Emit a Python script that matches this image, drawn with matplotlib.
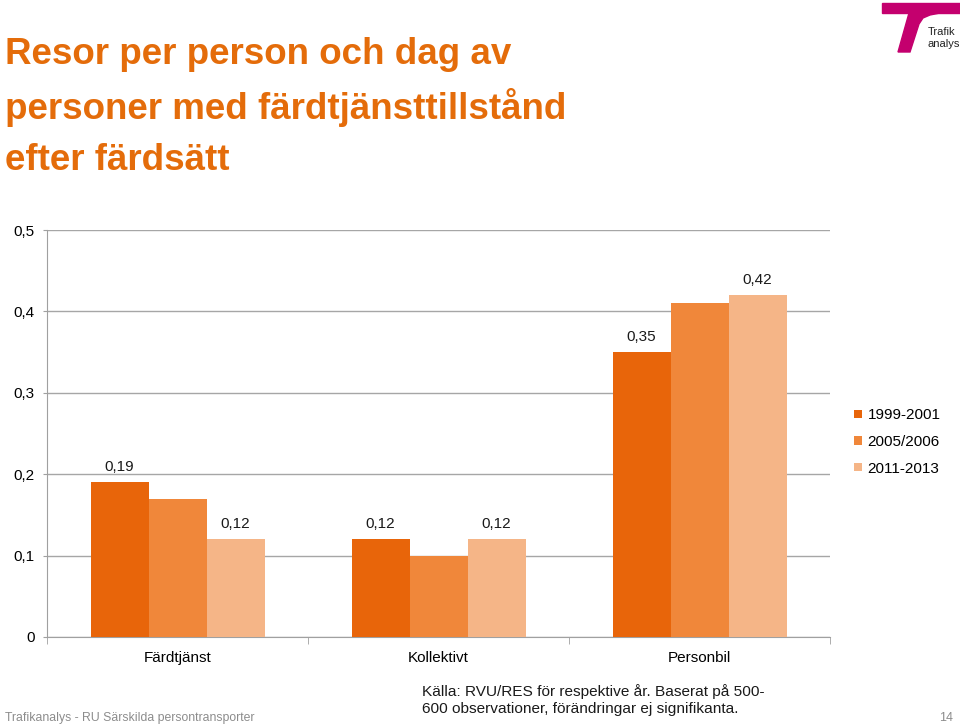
import matplotlib.pyplot as plt
import numpy as np
from matplotlib.patches import Polygon

# data
categories = ['Färdtjänst', 'Kollektivt', 'Personbil']
series_names = ['1999-2001', '2005/2006', '2011-2013']
values_1999 = [0.19, 0.12, 0.35]
values_2005 = [0.17, 0.10, 0.41]
values_2011 = [0.12, 0.12, 0.42]
yticks = [0, 0.1, 0.2, 0.3, 0.4, 0.5]
ytick_labels = ['0', '0,1', '0,2', '0,3', '0,4', '0,5']
title_lines = ['Resor per person och dag av',
               'personer med färdtjänsttillstånd',
               'efter färdsätt']

colors = ['#E8650A', '#F0873A', '#F5B587']
title_color = '#E46C0A'

plt.rcParams['font.family'] = ['Liberation Sans', 'DejaVu Sans']

fig = plt.figure(figsize=(9.6, 7.27), dpi=100)
ax = fig.add_axes([47/960, 1 - 637/727, (830-47)/960, (637-230)/727])

x = np.arange(len(categories))
w = 58/261
all_series = [values_1999, values_2005, values_2011]
bars = []
for i, vals in enumerate(all_series):
    b = ax.bar(x + (i - 1) * w, vals, w, color=colors[i], label=series_names[i], zorder=3)
    bars.append(b)

# labels only on first and last series
for i in (0, 2):
    for rect, v in zip(bars[i], all_series[i]):
        ax.annotate(f'{v:.2f}'.replace('.', ','),
                    (rect.get_x() + rect.get_width()/2, v),
                    xytext=(0, 6), textcoords='offset points',
                    ha='center', va='bottom', fontsize=11, color='#1a1a1a')

ax.set_xlim(-0.5, 2.5)
ax.set_ylim(0, 0.5)
ax.set_yticks(yticks)
ax.set_yticklabels(ytick_labels, fontsize=11)
ax.set_xticks(x)
ax.set_xticklabels(categories, fontsize=11)
ax.tick_params(axis='x', length=0, pad=10)
ax.set_xticks([-0.5, 0.5, 1.5, 2.5], minor=True)
ax.tick_params(axis='x', which='minor', length=5, color='#A0A0A0', direction='out')
ax.tick_params(axis='y', length=3, color='#A0A0A0', pad=6)
ax.grid(axis='y', color='#A6A6A6', lw=1, zorder=0)
for s in ['top', 'right']:
    ax.spines[s].set_visible(False)
for s in ['left', 'bottom']:
    ax.spines[s].set_color('#A0A0A0')

leg = ax.legend(loc='center left', bbox_to_anchor=(1.0, (637-442)/407), frameon=False,
                handlelength=0.5, handleheight=0.5, handletextpad=0.35,
                labelspacing=0.82, prop={'size': 11}, borderaxespad=1.2)

# title
for k, line in enumerate(title_lines):
    fig.text(5/960, 1 - (55 + 52.5*k)/727, line, fontsize=26.5, fontweight='bold',
             color=title_color, va='center', ha='left')

# footer
fig.text(5/960, 1 - 718/727, 'Trafikanalys - RU Särskilda persontransporter',
         fontsize=8.8, color='#8C8C8C', va='center')
fig.text(953/960, 1 - 718/727, '14', fontsize=9, color='#8C8C8C',
         va='center', ha='right')
fig.text(422/960, 1 - 700/727, 'Källa: RVU/RES för respektive år. Baserat på 500-\n600 observationer, förändringar ej signifikanta.',
         fontsize=11.1, color='#1a1a1a', va='center', linespacing=1.35)

# logo
logo = '#C4006E'
def fp(px, py):
    return (px/960, 1 - py/727)
fig.patches.append(Polygon([fp(882, 3), fp(960, 3), fp(960, 13), fp(882, 13)],
                           closed=True, transform=fig.transFigure, color=logo))
fig.patches.append(Polygon([fp(909, 13), fp(940, 13), fp(930, 15), fp(923, 18), fp(919, 24),
                            fp(910, 52), fp(898, 52)],
                           closed=True, transform=fig.transFigure, color=logo))
fig.text(928/960, 1 - 32/727, 'Trafik', fontsize=8, color='#222222', va='center', ha='left')
fig.text(928/960, 1 - 44/727, 'analys', fontsize=8, color='#222222', va='center', ha='left')

fig.savefig('out.png', dpi=100)
